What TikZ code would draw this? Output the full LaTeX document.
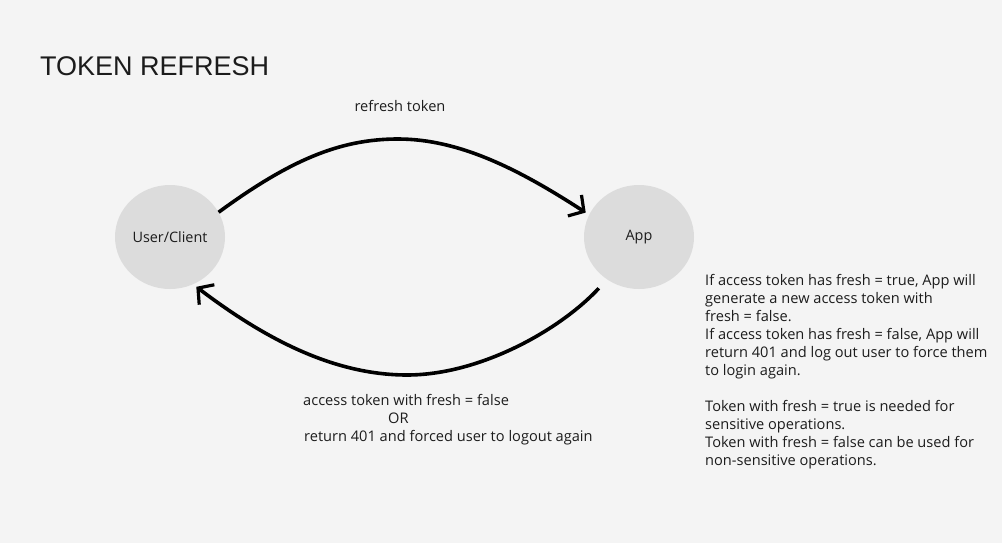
\documentclass[tikz,border=0pt]{standalone}
\usepackage{fontspec}
\setmainfont{Liberation Sans}
\newfontfamily\labelfont{Open Sans}
\usetikzlibrary{shapes.geometric,arrows.meta}
\definecolor{bg}{HTML}{F4F4F4}
\definecolor{circ}{HTML}{DCDCDC}
\definecolor{ink}{HTML}{1C1C1C}
\tikzset{
  actor/.style={ellipse, fill=circ, draw=none, minimum width=110pt, minimum height=104pt, inner sep=0pt, text=ink, font=\labelfont\fontsize{14.4}{16}\selectfont},
  flow/.style={line width=3.6pt, draw=black, -{Straight Barb[length=11pt,width=25pt,line width=3.2pt]}},
  lbl/.style={inner sep=0pt, text=ink, font=\labelfont\fontsize{14.6}{18}\selectfont},
}
\begin{document}
\begin{tikzpicture}[x=1pt,y=-1pt]
\fill[bg] (0,0) rectangle (1002,543);
\useasboundingbox (0,0) rectangle (1002,543);

\node[inner sep=0pt, anchor=base west, text=ink, font=\fontsize{27}{32}\selectfont] (title) at (40,76) {TOKEN REFRESH};

\node[actor] (user) at (170,237) {User/Client};
\node[actor] (app) at (639,237) {\raisebox{2pt}{App}};

\draw[flow, shorten >=4pt] (user.27.5) .. controls (290,160) and (340,139) .. (398,139)
   .. controls (460,139) and (520,170) .. (app.156);
\draw[flow, shorten <=12pt, shorten >=4pt] (app.233) .. controls (560,330) and (480,375) .. (407,375)
   .. controls (330,375) and (260,335) .. (user.296);

\node[lbl, anchor=base] (reflbl) at (400,111) {refresh token};

\node[lbl, anchor=base west] (acc1) at (303,405) {access token with fresh = false};
\node[lbl, anchor=base west] (acc2) at (388,423) {OR};
\node[lbl, anchor=base west] (acc3) at (304,441) {return 401 and forced user to logout again};

\node[lbl, anchor=north west, align=left] (note) at (705,274) {If access token has fresh = true, App will\\
generate a new access token with\\
fresh = false.\\
If access token has fresh = false, App will\\
return 401 and log out user to force them\\
to login again.\\[18pt]
Token with fresh = true is needed for\\
sensitive operations.\\
Token with fresh = false can be used for\\
non-sensitive operations.};
\end{tikzpicture}
\end{document}
